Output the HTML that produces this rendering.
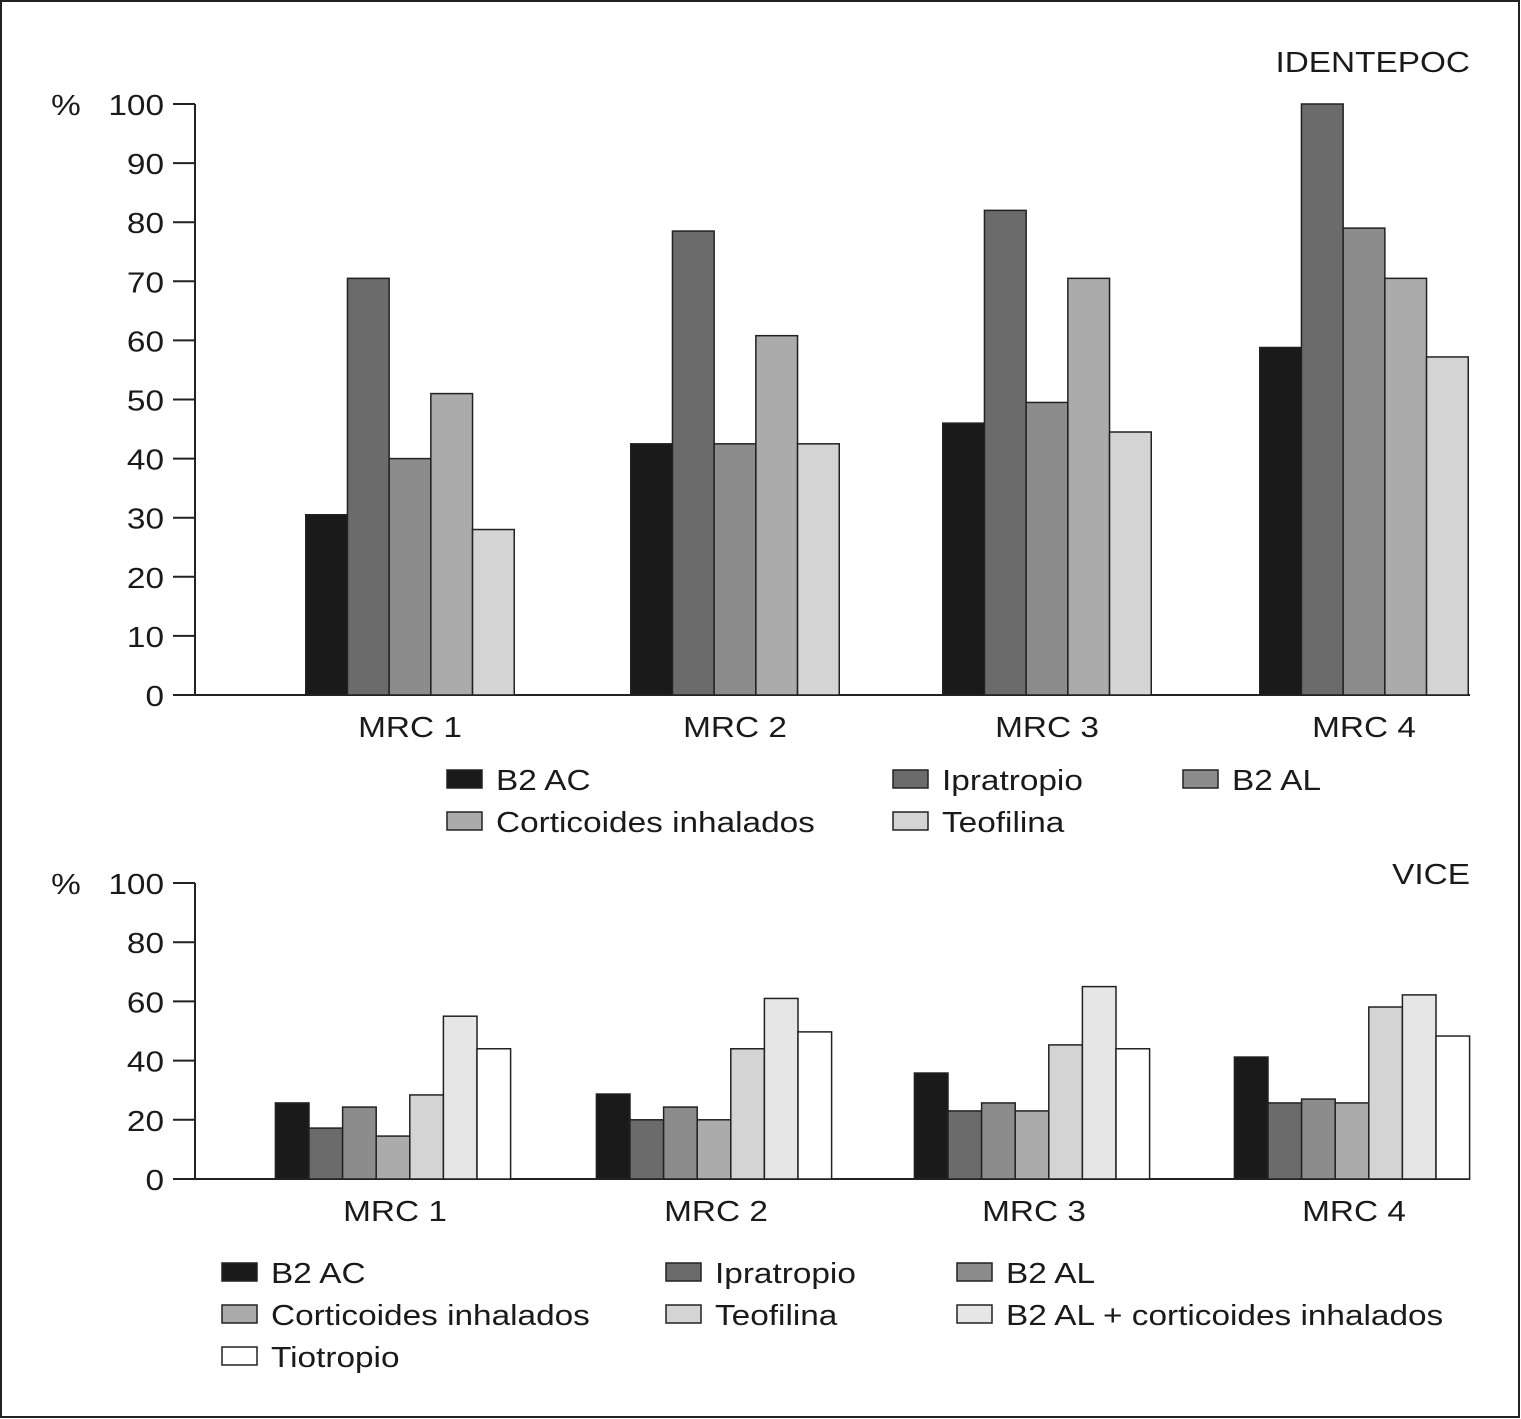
<!DOCTYPE html>
<html><head><meta charset="utf-8"><style>
html,body{margin:0;padding:0;background:#fff}
svg{display:block}
text{font-family:"Liberation Sans",Arial,sans-serif;fill:#1a1a1a}
</style></head><body>
<svg id="s" width="1521" height="1419" xmlns="http://www.w3.org/2000/svg">
<rect x="1" y="1" width="1518" height="1416" fill="#fff" stroke="#222" stroke-width="2"/>
</svg>
<script>
const categories=["MRC 1","MRC 2","MRC 3","MRC 4"];
const topSeries=["B2 AC","Ipratropio","B2 AL","Corticoides inhalados","Teofilina"];
const topValues=[
 [30.5,42.5,46,58.8],
 [70.5,78.5,82,100],
 [40,42.5,49.5,79],
 [51,60.8,70.5,70.5],
 [28,42.5,44.5,57.2]];
const topTicks=[0,10,20,30,40,50,60,70,80,90,100];
const botSeries=["B2 AC","Ipratropio","B2 AL","Corticoides inhalados","Teofilina","B2 AL + corticoides inhalados","Tiotropio"];
const botValues=[
 [25.7,28.7,35.8,41.2],
 [17.2,20,23,25.7],
 [24.3,24.3,25.7,27],
 [14.5,20,23,25.7],
 [28.4,44,45.3,58.1],
 [55,61,65,62.2],
 [44,49.7,44,48.3]];
const botTicks=[0,20,40,60,80,100];
const topColors=["#1a1a1a","#6b6b6b","#8c8c8c","#ababab","#d4d4d4"];
const botColors=["#1a1a1a","#6b6b6b","#8c8c8c","#ababab","#d4d4d4","#e6e6e6","#ffffff"];
const topCenters=[410,735,1047,1364];
const botCenters=[393,714,1032,1352];
const NS="http://www.w3.org/2000/svg";
const svg=document.getElementById('s');
function mk(tag,attrs,txt){const e=document.createElementNS(NS,tag);for(const k in attrs)e.setAttribute(k,attrs[k]);if(txt!==undefined)e.textContent=txt;svg.appendChild(e);return e;}
function txt(x,y,s,anchor){return mk('text',{x:0,y:0,'font-size':29,'text-anchor':anchor||'start',transform:`translate(${x},${y}) scale(1.15,1)`},s);}
function chart(cfg){
 const y=v=>cfg.y0-(v/cfg.max)*(cfg.y0-cfg.y1);
 const ax=mk('line',{x1:cfg.ax,y1:cfg.y1,x2:cfg.ax,y2:cfg.y0,stroke:'#222','stroke-width':2});
 
 
 const xl=mk('line',{x1:173,y1:cfg.y0,x2:cfg.xe,y2:cfg.y0,stroke:'#222','stroke-width':2});
 
 
 cfg.ticks.forEach(t=>{
  const tl=mk('line',{x1:173,y1:y(t),x2:cfg.ax,y2:y(t),stroke:'#222','stroke-width':2});
  
  
  const tx=txt(164,y(t)+11,t,'end');
  
  
 });
 const pc=txt(66,y(cfg.max)+11,'%','middle');
 
 
 const tt=txt(1470,cfg.ty,cfg.title,'end');
 
 
 const n=cfg.values.length;
 categories.forEach((c,i)=>{
  const cx=cfg.centers[i];
  const start=cx-n*cfg.bw/2;
  cfg.values.forEach((ser,j)=>{
   const v=ser[i];
   const r=mk('rect',{x:start+j*cfg.bw,y:y(v),width:cfg.bw,height:cfg.y0-y(v),fill:cfg.colors[j],stroke:'#222','stroke-width':1.5});
   
   
  });
  const lt=txt(cx+cfg.lo,cfg.y0+42,c,'middle');
  
  
 });
 cfg.series.forEach((s,j)=>{
  const col=j%3,row=Math.floor(j/3);
  const lx=cfg.lx[col],ly=cfg.ly+row*42;
  const sq=mk('rect',{x:lx,y:ly-18,width:35,height:18,fill:cfg.colors[j],stroke:'#222','stroke-width':1.5});
  
  
  const lt=txt(lx+49,ly+2,s);
  
  
 });
}
chart({p:'top-',y0:695,y1:104,max:100,ax:195,xe:1470,ticks:topTicks,values:topValues,colors:topColors,series:topSeries,centers:topCenters,lo:0,bw:41.7,title:'IDENTEPOC',ty:72,lx:[447,893,1183],ly:788});
chart({p:'bottom-',y0:1179,y1:883,max:100,ax:195,xe:1470,ticks:botTicks,values:botValues,colors:botColors,series:botSeries,centers:botCenters,lo:2,bw:33.6,title:'VICE',ty:884,lx:[222,666,957],ly:1281});
</script>
</body></html>
